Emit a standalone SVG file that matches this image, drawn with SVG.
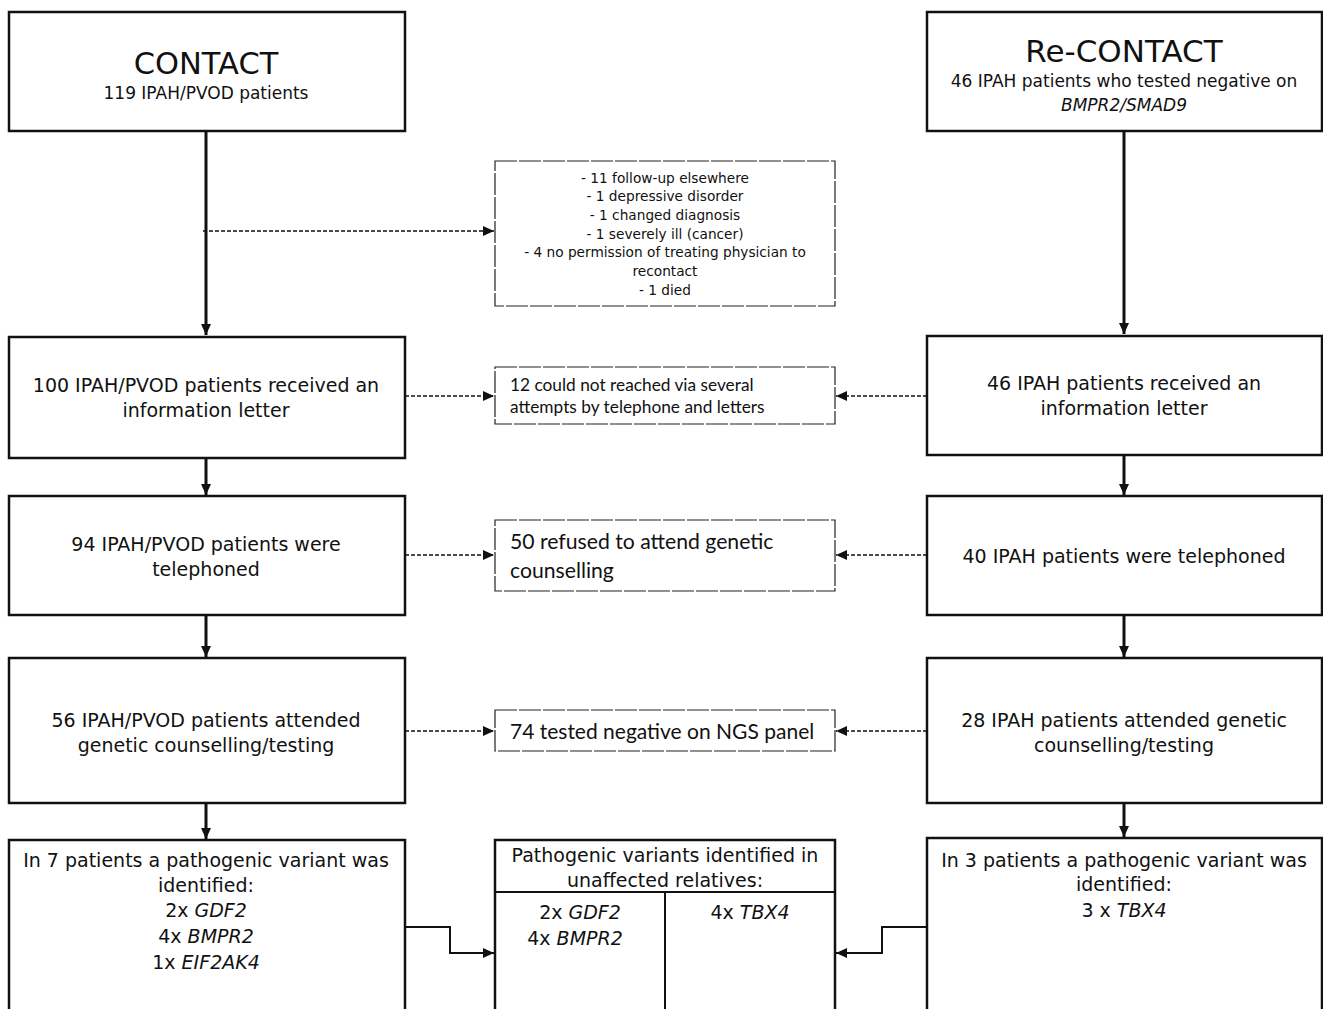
<svg xmlns="http://www.w3.org/2000/svg" width="1323" height="1009" viewBox="0 0 1323 1009">
<style>
.box{fill:#fff;stroke:#111;stroke-width:2.5}
.dbox{fill:#fff;stroke:#222;stroke-width:1.2;stroke-dasharray:22 2}
.t{font-family:"DejaVu Sans",Verdana,sans-serif;fill:#111;text-anchor:middle}
.c{font-family:Lato,"Open Sans",sans-serif;fill:#111}
.i{font-style:italic}
.con{fill:none;stroke:#111;stroke-width:3}
.el{fill:none;stroke:#111;stroke-width:2}
.dash{fill:none;stroke:#111;stroke-width:1.5;stroke-dasharray:4 2}
</style>
<defs>
<marker id="ah" markerUnits="userSpaceOnUse" markerWidth="12" markerHeight="12" viewBox="0 0 12 12" refX="11" refY="6" orient="auto">
<path d="M0,1 L11,6 L0,11 Z" fill="#111"/>
</marker>
</defs>
<rect width="1323" height="1009" fill="#fff"/>
<g id="connectors">
<line class="con" x1="206" y1="131" x2="206" y2="335" marker-end="url(#ah)"/>
<line class="dash" x1="203" y1="231" x2="494" y2="231" marker-end="url(#ah)"/>
<line class="con" x1="1124" y1="131" x2="1124" y2="334" marker-end="url(#ah)"/>
<line class="con" x1="206" y1="458" x2="206" y2="495" marker-end="url(#ah)"/>
<line class="con" x1="1124" y1="455" x2="1124" y2="495" marker-end="url(#ah)"/>
<line class="con" x1="206" y1="615" x2="206" y2="657" marker-end="url(#ah)"/>
<line class="con" x1="1124" y1="615" x2="1124" y2="657" marker-end="url(#ah)"/>
<line class="con" x1="206" y1="803" x2="206" y2="839" marker-end="url(#ah)"/>
<line class="con" x1="1124" y1="796" x2="1124" y2="837" marker-end="url(#ah)"/>
<line class="dash" x1="405" y1="396" x2="494" y2="396" marker-end="url(#ah)"/>
<line class="dash" x1="927" y1="396" x2="836" y2="396" marker-end="url(#ah)"/>
<line class="dash" x1="405" y1="555" x2="494" y2="555" marker-end="url(#ah)"/>
<line class="dash" x1="927" y1="555" x2="836" y2="555" marker-end="url(#ah)"/>
<line class="dash" x1="405" y1="731" x2="494" y2="731" marker-end="url(#ah)"/>
<line class="dash" x1="927" y1="731" x2="836" y2="731" marker-end="url(#ah)"/>
<polyline class="el" points="405,927 450,927 450,953 494,953" marker-end="url(#ah)"/>
<polyline class="el" points="927,927 882,927 882,953 836,953" marker-end="url(#ah)"/>
</g>
<g id="contact">
<rect class="box" x="9" y="12" width="396" height="119"/>
<text class="t" x="206" y="74" font-size="30.5">CONTACT</text>
<text class="t" x="206" y="99" font-size="17">119 IPAH/PVOD patients</text>
</g>
<g id="recontact">
<rect class="box" x="927" y="12" width="395" height="119"/>
<text class="t" x="1124" y="62" font-size="31">Re-CONTACT</text>
<text class="t" x="1124" y="87" font-size="17">46 IPAH patients who tested negative on</text>
<text class="t i" x="1124" y="111" font-size="17">BMPR2/SMAD9</text>
</g>
<g id="excluded1">
<rect class="dbox" x="495" y="161" width="340" height="145"/>
<g class="t" font-size="13.7">
<text x="665" y="183">- 11 follow-up elsewhere</text>
<text x="665" y="201">- 1 depressive disorder</text>
<text x="665" y="220">- 1 changed diagnosis</text>
<text x="665" y="239">- 1 severely ill (cancer)</text>
<text x="665" y="257">- 4 no permission of treating physician to</text>
<text x="665" y="276">recontact</text>
<text x="665" y="295">- 1 died</text>
</g>
</g>
<g id="letter-left">
<rect class="box" x="9" y="337" width="396" height="121"/>
<text class="t" x="206" y="392" font-size="19">100 IPAH/PVOD patients received an</text>
<text class="t" x="206" y="417" font-size="19">information letter</text>
</g>
<g id="unreached">
<rect class="dbox" x="495" y="367" width="340" height="57"/>
<text class="c" x="510" y="391" font-size="17.3">12 could not reached via several</text>
<text class="c" x="510" y="413" font-size="17.3">attempts by telephone and letters</text>
</g>
<g id="letter-right">
<rect class="box" x="927" y="336" width="395" height="119"/>
<text class="t" x="1124" y="390" font-size="19">46 IPAH patients received an</text>
<text class="t" x="1124" y="415" font-size="19">information letter</text>
</g>
<g id="phone-left">
<rect class="box" x="9" y="496" width="396" height="119"/>
<text class="t" x="206" y="551" font-size="19">94 IPAH/PVOD patients were</text>
<text class="t" x="206" y="576" font-size="19">telephoned</text>
</g>
<g id="refused">
<rect class="dbox" x="495" y="520" width="340" height="71"/>
<text class="c" x="510" y="549" font-size="21.2">50 refused to attend genetic</text>
<text class="c" x="510" y="578" font-size="21.2">counselling</text>
</g>
<g id="phone-right">
<rect class="box" x="927" y="496" width="395" height="119"/>
<text class="t" x="1124" y="563" font-size="19">40 IPAH patients were telephoned</text>
</g>
<g id="counsel-left">
<rect class="box" x="9" y="658" width="396" height="145"/>
<text class="t" x="206" y="727" font-size="19">56 IPAH/PVOD patients attended</text>
<text class="t" x="206" y="752" font-size="19">genetic counselling/testing</text>
</g>
<g id="negative">
<rect class="dbox" x="495" y="710" width="340" height="41"/>
<text class="c" x="510" y="739" font-size="21">74 tested negative on NGS panel</text>
</g>
<g id="counsel-right">
<rect class="box" x="927" y="658" width="395" height="145"/>
<text class="t" x="1124" y="727" font-size="19">28 IPAH patients attended genetic</text>
<text class="t" x="1124" y="752" font-size="19">counselling/testing</text>
</g>
<g id="variants-left">
<rect class="box" x="9" y="840" width="396" height="180"/>
<text class="t" x="206" y="867" font-size="19">In 7 patients a pathogenic variant was</text>
<text class="t" x="206" y="892" font-size="19">identified:</text>
<text class="t" x="206" y="917" font-size="19">2x <tspan class="i">GDF2</tspan></text>
<text class="t" x="206" y="943" font-size="19">4x <tspan class="i">BMPR2</tspan></text>
<text class="t" x="206" y="969" font-size="19">1x <tspan class="i">EIF2AK4</tspan></text>
</g>
<g id="relatives">
<rect class="box" x="495" y="840" width="340" height="180"/>
<line class="el" x1="495" y1="892" x2="835" y2="892"/>
<line class="el" x1="665" y1="892" x2="665" y2="1009"/>
<text class="t" x="665" y="862" font-size="19">Pathogenic variants identified in</text>
<text class="t" x="665" y="887" font-size="19">unaffected relatives:</text>
<text class="t" x="580" y="919" font-size="19">2x <tspan class="i">GDF2</tspan></text>
<text class="t" x="575" y="945" font-size="19">4x <tspan class="i">BMPR2</tspan></text>
<text class="t" x="750" y="919" font-size="19">4x <tspan class="i">TBX4</tspan></text>
</g>
<g id="variants-right">
<rect class="box" x="927" y="838" width="395" height="182"/>
<text class="t" x="1124" y="867" font-size="19">In 3 patients a pathogenic variant was</text>
<text class="t" x="1124" y="891" font-size="19">identified:</text>
<text class="t" x="1124" y="917" font-size="19">3 x <tspan class="i">TBX4</tspan></text>
</g>
</svg>
